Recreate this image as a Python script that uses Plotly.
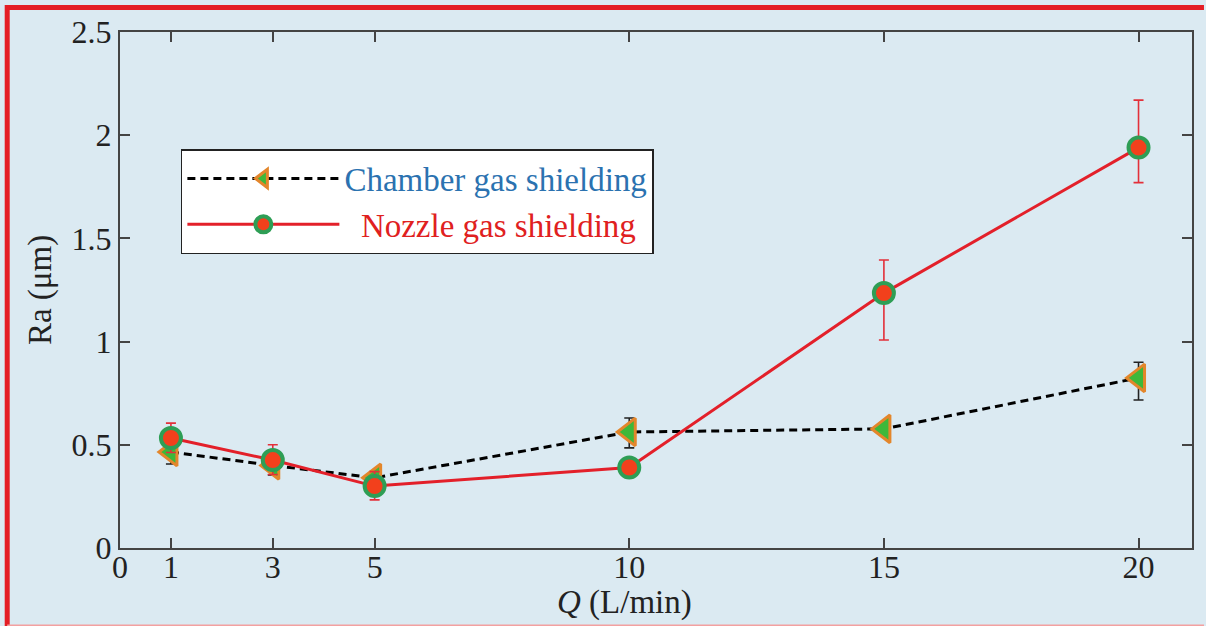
import plotly.graph_objects as go

# ---- data ----
Q = [1, 3, 5, 10, 15, 20]
chamber = [0.465, 0.40, 0.34, 0.562, 0.577, 0.824]
chamber_err_plus = [0.05, 0.04, 0.03, 0.068, 0.0, 0.076]
chamber_err_minus = [0.058, 0.046, 0.03, 0.077, 0.0, 0.107]
nozzle = [0.533, 0.426, 0.30, 0.39, 1.235, 1.94]
nozzle_err_plus = [0.072, 0.074, 0.07, 0.01, 0.16, 0.23]
nozzle_err_minus = [0.07, 0.07, 0.067, 0.01, 0.227, 0.17]
x_ticks = [0, 1, 3, 5, 10, 15, 20]
y_ticks = [0, 0.5, 1, 1.5, 2, 2.5]
y_tick_labels = ["0", "0.5", "1", "1.5", "2", "2.5"]

BG = "#dbeaf2"
FONT = "Liberation Serif"
FS = 32

fig = go.Figure()
fig.add_trace(go.Scatter(
    x=Q, y=chamber, mode="lines+markers",
    name="<span style='color:#2b72b0'>Chamber gas shielding</span>",
    line=dict(color="black", width=3, dash="8px,5px"),
    marker=dict(symbol="triangle-left", size=24, color="#3db83a",
                line=dict(color="#e3862b", width=3)),
    error_y=dict(type="data", symmetric=False, array=chamber_err_plus,
                 arrayminus=chamber_err_minus, color="#222222",
                 thickness=1.6, width=5),
))
fig.add_trace(go.Scatter(
    x=Q, y=nozzle, mode="lines+markers",
    name="<span style='color:#e02020'>  Nozzle gas shielding</span>",
    line=dict(color="#e3202a", width=3),
    marker=dict(symbol="circle", size=20, color="#f2401c",
                line=dict(color="#2e9e55", width=4)),
    error_y=dict(type="data", symmetric=False, array=nozzle_err_plus,
                 arrayminus=nozzle_err_minus, color="#e3303a",
                 thickness=1.6, width=5),
))

axis_common = dict(
    showline=True, linecolor="#444444", linewidth=2, mirror="ticks",
    ticks="inside", ticklen=10, tickwidth=1.5, tickcolor="#444444",
    showgrid=False, zeroline=False,
    tickfont=dict(family=FONT, size=FS, color="#222222"),
)

W, L = 1074, 120
H, B = 516, 548


def px(x):
    return (x - L) / W


def py(y):
    return (B - y) / H


border = [
    dict(type="line", xref="paper", yref="paper", x0=px(7), x1=px(1206),
         y0=py(7.5), y1=py(7.5), line=dict(color="#e41e25", width=5), layer="below"),
    dict(type="line", xref="paper", yref="paper", x0=px(7), x1=px(7),
         y0=py(5), y1=py(626), line=dict(color="#e41e25", width=5), layer="below"),
    dict(type="line", xref="paper", yref="paper", x0=px(7), x1=px(1206),
         y0=py(625.5), y1=py(625.5), line=dict(color="#f3a0a0", width=2), layer="below"),
]

fig.update_layout(
    width=1206, height=626,
    margin=dict(l=120, r=12, t=32, b=78),
    paper_bgcolor=BG, plot_bgcolor=BG,
    font=dict(family=FONT, size=FS, color="#222222"),
    showlegend=True,
    legend=dict(
        x=px(181), y=py(149),
        xanchor="left", yanchor="top",
        bgcolor="white", bordercolor="#222222", borderwidth=1.5,
        font=dict(family=FONT, size=33),
        itemwidth=152, tracegroupgap=0,
    ),
    xaxis=dict(range=[0, 21.05], tickvals=x_ticks, ticktext=[str(v) for v in x_ticks],
               ticklabelstandoff=-10, **axis_common),
    yaxis=dict(range=[0, 2.5], tickvals=y_ticks, ticktext=y_tick_labels,
               title=dict(text="Ra (μm)", font=dict(family=FONT, size=33), standoff=10),
               **axis_common),
    annotations=[dict(
        text="<i>Q</i> (L/min)", x=9.9, y=0, xref="x", yref="y",
        yshift=-54, showarrow=False, yanchor="middle",
        font=dict(family=FONT, size=33, color="#222222"),
    )],
    shapes=border,
)

fig.write_html("out.html")
